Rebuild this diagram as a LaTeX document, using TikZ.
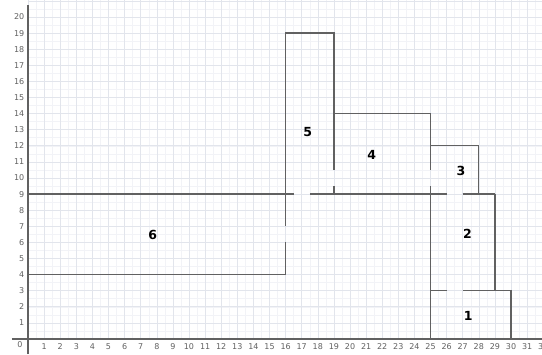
\documentclass[tikz,border=0pt]{standalone}
\usepackage{fontspec}
\setmainfont{DejaVu Sans}
\definecolor{gridminor}{RGB}{242,243,247}
\definecolor{gridmajor}{RGB}{226,229,236}
\begin{document}
\begin{tikzpicture}[x=16.1pt,y=16.1pt,
  minorgrid/.style={draw=gridminor,line width=0.5pt},
  majorgrid/.style={draw=gridmajor,line width=0.6pt},
  axisline/.style={draw=black!62,line width=1.1pt},
  wall/.style={draw=black!62,line width=1.25pt},
  ticklabel/.style={font=\fontsize{8}{9}\selectfont,text=black!62,inner sep=0pt},
  roomlabel/.style={font=\bfseries\fontsize{12.5}{14}\selectfont,text=black,inner sep=0pt}]
\useasboundingbox[fill=white] (-1.739,-0.932) rectangle (31.925,21.056);
% grid
\draw[minorgrid,step=0.5] (0,0) grid (31.925,21.056);
\draw[majorgrid,step=1] (0,0) grid (31.925,21.056);
% axes
\draw[axisline] (-1.0,0) -- (31.925,0);
\draw[axisline] (0,-0.932) -- (0,20.75);
% tick labels
\node[ticklabel] (o) at (-0.5,-0.37) {0};
\foreach \i in {1,...,32} {\node[ticklabel] (xl\i) at (\i,-0.45) {\i};}
\foreach \j in {1,...,20} {\node[ticklabel,anchor=east] (yl\j) at (-0.22,\j) {\j};}
% walls
\draw[wall] (0,9) -- (16.5,9);
\draw[wall] (17.5,9) -- (26,9);
\draw[wall] (27,9) -- (29,9);
\draw[wall] (0,4) -- (16,4) -- (16,6);
\draw[wall] (16,7) -- (16,19) -- (19,19) -- (19,10.5);
\draw[wall] (19,9.5) -- (19,9);
\draw[wall] (19,14) -- (25,14) -- (25,10.5);
\draw[wall] (25,9.5) -- (25,0);
\draw[wall] (25,12) -- (28,12) -- (28,9);
\draw[wall] (29,9) -- (29,3);
\draw[wall] (25,3) -- (26,3);
\draw[wall] (27,3) -- (30,3) -- (30,0);
% room labels
\node[roomlabel] (r6) at (7.75,6.45) {6};
\node[roomlabel] (r5) at (17.37,12.83) {5};
\node[roomlabel] (r4) at (21.35,11.43) {4};
\node[roomlabel] (r3) at (26.9,10.45) {3};
\node[roomlabel] (r2) at (27.3,6.56) {2};
\node[roomlabel] (r1) at (27.35,1.43) {1};
\end{tikzpicture}
\end{document}
